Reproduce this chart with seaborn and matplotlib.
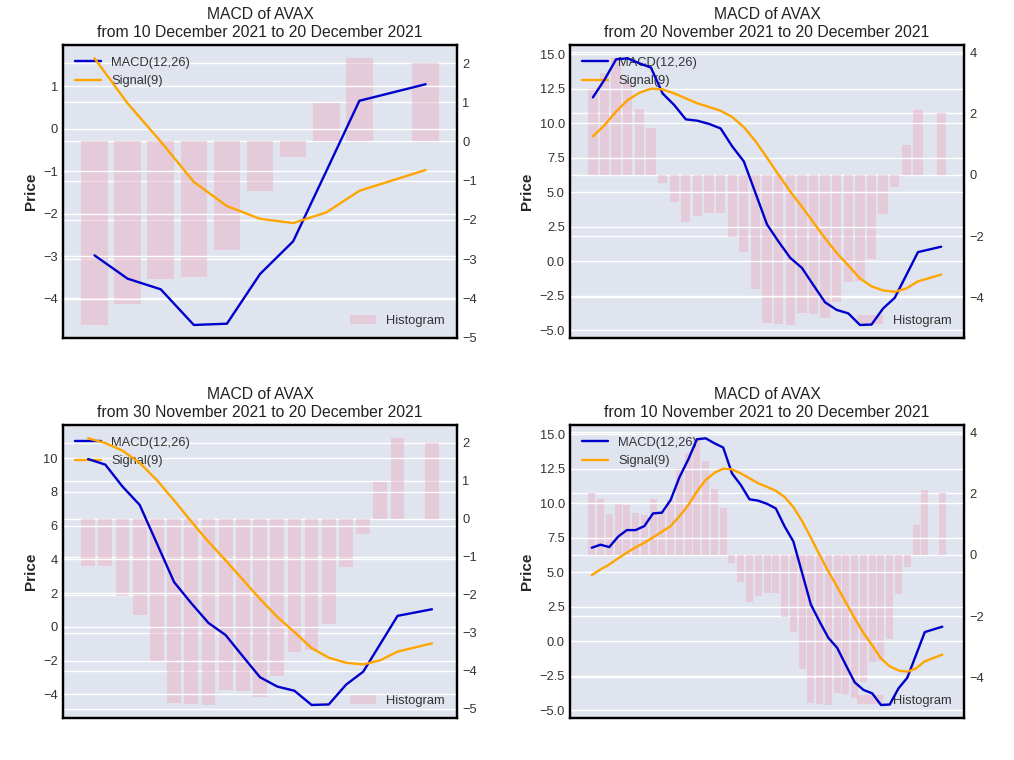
import pandas as pd
import matplotlib
matplotlib.use("Agg")
import matplotlib.pyplot as plt
import seaborn as sns

# AVAX daily MACD values (19 Dec has no data)
dates = pd.date_range("2021-11-10", "2021-12-20").drop(pd.Timestamp("2021-12-19"))

macd = [6.77, 6.99, 6.82, 7.57, 8.05, 8.05, 8.34, 9.26, 9.31, 10.23,
        11.87, 13.15, 14.63, 14.70, 14.34, 14.03, 12.16, 11.32, 10.28, 10.18,
        9.95, 9.62, 8.32, 7.23, 4.95, 2.66, 1.41, 0.24, -0.48, -1.74,
        -2.98, -3.53, -3.78, -4.62, -4.59, -3.42, -2.65, -1.00, 0.66, 1.05]

signal = [4.79, 5.20, 5.56, 6.00, 6.41, 6.80, 7.13, 7.52, 7.93, 8.34,
          9.05, 9.85, 10.85, 11.68, 12.20, 12.50, 12.45, 12.16, 11.80, 11.44,
          11.18, 10.90, 10.45, 9.72, 8.70, 7.50, 6.25, 5.05, 3.95, 2.80,
          1.66, 0.60, -0.30, -1.25, -1.82, -2.12, -2.22, -1.97, -1.46, -0.97]

hist = [2.03, 1.81, 1.32, 1.68, 1.63, 1.35, 1.29, 1.81, 1.42, 1.81,
        2.82, 3.32, 3.80, 3.05, 2.15, 1.52, -0.27, -0.90, -1.53, -1.34,
        -1.24, -1.25, -2.04, -2.53, -3.74, -4.85, -4.87, -4.90, -4.50, -4.54,
        -4.68, -4.15, -3.51, -3.45, -2.76, -1.27, -0.40, 0.97, 2.12, 2.00]

# panel order: top-left, top-right, bottom-left, bottom-right
starts = ["2021-12-10", "2021-11-20", "2021-11-30", "2021-11-10"]
end = "2021-12-20"

df = pd.DataFrame({"date": dates, "macd": macd, "signal": signal, "hist": hist})

BG = "#dfe4ee"
sns.set_style("darkgrid", {"axes.facecolor": BG, "axes.edgecolor": "black",
                           "grid.color": "white"})
plt.rcParams["font.family"] = ["Liberation Sans", "DejaVu Sans"]

fig, axes = plt.subplots(2, 2, figsize=(10.14, 7.6), dpi=100)
fig.subplots_adjust(left=0.0625, right=0.9504, top=0.9408, bottom=0.0549,
                    wspace=0.289, hspace=0.2955)

for ax, start in zip(axes.flat, starts):
    sub = df[df["date"] >= pd.Timestamp(start)]
    ax2 = ax.twinx()

    ax2.bar(sub["date"], sub["hist"], width=0.8, color="#eab6c9", alpha=0.55,
            linewidth=0, edgecolor="none", label="Histogram")
    sns.lineplot(data=sub, x="date", y="macd", ax=ax, color="mediumblue",
                 linewidth=1.7, label="MACD(12,26)")
    sns.lineplot(data=sub, x="date", y="signal", ax=ax, color="orange",
                 linewidth=1.7, label="Signal(9)")

    # lines above the bars
    ax.set_zorder(ax2.get_zorder() + 1)
    ax.patch.set_visible(False)
    ax2.patch.set_visible(True)
    ax2.set_facecolor(BG)

    leg = ax.legend(loc="upper left", frameon=False, fontsize=9.3,
                    labelcolor="#333333")
    leg.set_zorder(1)
    ax2.legend(loc="lower right", frameon=False, fontsize=9.3,
               labelcolor="#333333")

    for a in (ax, ax2):
        a.set_xticks([])
        a.xaxis.grid(False)
        a.yaxis.grid(True, color="white", linewidth=1)
        a.tick_params(axis="y", length=0, labelsize=9.3, labelcolor="#333333",
                      pad=4)
        for s in a.spines.values():
            s.set_color("black")
            s.set_linewidth(1.6)

    ax.set_xlabel("")
    ax.set_ylabel("Price", fontsize=11, fontweight="bold")
    ax2.set_ylabel("")

    d0 = pd.Timestamp(start)
    d1 = pd.Timestamp(end)
    ax.set_title(f"MACD of AVAX\nfrom {d0.day} {d0:%B %Y} to {d1.day} {d1:%B %Y}",
                 fontsize=11.3, color="#222222")

plt.savefig("out.png", dpi=100)
